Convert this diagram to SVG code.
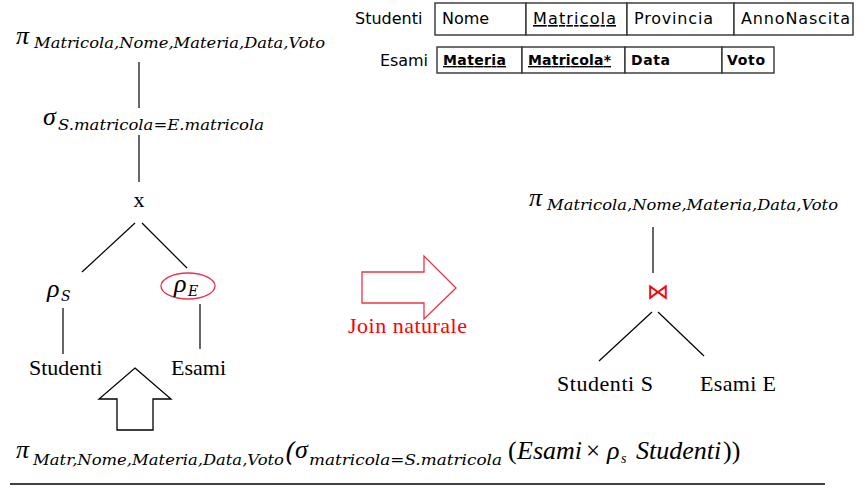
<svg xmlns="http://www.w3.org/2000/svg" width="865" height="488" viewBox="0 0 865 488">
<style>
.bg{fill:#ffffff}
.ln{stroke:#000;stroke-width:1.2;fill:none}
.cell{fill:#fff;stroke:#333;stroke-width:1.4}
.tbl{font-family:"DejaVu Sans","Noto Sans",sans-serif;font-size:16px;fill:#000}
.tblb{font-family:"DejaVu Sans","Noto Sans",sans-serif;font-size:14px;font-weight:bold;fill:#000}
.u{text-decoration:underline}
.m{font-family:"DejaVu Serif","Liberation Serif",serif;font-style:italic;fill:#000}
.g{font-family:"Liberation Serif","DejaVu Serif",serif;font-style:italic;fill:#000;font-size:26px}
.sub{font-size:15px}
.rm{font-family:"Liberation Serif","Times New Roman",serif;font-size:22px;fill:#000}
.red{fill:#ff0000}
</style>
<rect class="bg" x="0" y="0" width="865" height="488"/>

<g id="schema-studenti">
  <text class="tbl" x="355" y="24">Studenti</text>
  <rect class="cell" x="435" y="3" width="91" height="32"/>
  <rect class="cell" x="526" y="3" width="101" height="32"/>
  <rect class="cell" x="627" y="3" width="107" height="32"/>
  <rect class="cell" x="734" y="3" width="119" height="32"/>
  <text class="tbl" x="442" y="24">Nome</text>
  <text class="tbl u" x="533" y="24" textLength="83">Matricola</text>
  <text class="tbl" x="634" y="24" textLength="79">Provincia</text>
  <text class="tbl" x="741" y="24" textLength="109">AnnoNascita</text>
</g>

<g id="schema-esami">
  <text class="tbl" x="380" y="66" textLength="48">Esami</text>
  <rect class="cell" x="437" y="47" width="85" height="26"/>
  <rect class="cell" x="522" y="47" width="103" height="26"/>
  <rect class="cell" x="625" y="47" width="97" height="26"/>
  <rect class="cell" x="722" y="47" width="52" height="26"/>
  <text class="tblb u" x="443" y="65" textLength="63">Materia</text>
  <text class="tblb u" x="528" y="65" textLength="83">Matricola*</text>
  <text class="tblb" x="631" y="65" textLength="39">Data</text>
  <text class="tblb" x="727" y="65" textLength="38">Voto</text>
</g>

<g id="connectors">
  <line class="ln" x1="139" y1="62" x2="139" y2="108"/>
  <line class="ln" x1="139" y1="135" x2="139" y2="182"/>
  <line class="ln" x1="135" y1="223" x2="82" y2="272"/>
  <line class="ln" x1="142" y1="223" x2="187" y2="268"/>
  <line class="ln" x1="63" y1="308" x2="63" y2="354"/>
  <line class="ln" x1="200" y1="304" x2="200" y2="349"/>
  <line class="ln" x1="653" y1="227" x2="653" y2="273"/>
  <line class="ln" x1="652" y1="312" x2="599" y2="361"/>
  <line class="ln" x1="658" y1="312" x2="704" y2="356"/>
</g>

<g id="proj-left">
  <text class="g" x="16" y="44">π</text>
  <text class="m sub" x="34" y="48" textLength="291" lengthAdjust="spacingAndGlyphs">Matricola,Nome,Materia,Data,Voto</text>
</g>

<g id="sel-left">
  <text class="g" x="43" y="125">σ</text>
  <text class="m sub" x="58" y="130" textLength="206" lengthAdjust="spacingAndGlyphs">S.matricola=E.matricola</text>
</g>

<g id="cross">
  <text class="rm" x="139" y="207" text-anchor="middle" font-size="20">x</text>
</g>

<g id="rho-s">
  <text class="g" x="47" y="297">ρ</text>
  <text class="m" x="61" y="301" font-size="14">S</text>
</g>

<g id="rho-e">
  <ellipse cx="188" cy="286" rx="27" ry="13" fill="none" stroke="#e8344f" stroke-width="1.3"/>
  <text class="g" x="174" y="292">ρ</text>
  <text class="m" x="188" y="296" font-size="14">E</text>
</g>

<g id="studenti-left">
  <text class="rm" x="29" y="375">Studenti</text>
</g>

<g id="esami-left">
  <text class="rm" x="171" y="375">Esami</text>
</g>

<g id="arrow-up">
  <polygon points="135,368 171,399 153,399 153,430 117,430 117,399 99,399" fill="#fff" stroke="#000" stroke-width="1.3"/>
</g>

<g id="arrow-join">
  <polygon points="362,272 424,272 424,256 456,288 424,319 424,303 362,303" fill="#fff" stroke="#ee3344" stroke-width="1.3"/>
  <text class="rm red" x="348" y="333" textLength="119">Join naturale</text>
</g>

<g id="proj-right">
  <text class="g" x="529" y="206">π</text>
  <text class="m sub" x="547" y="210" textLength="291" lengthAdjust="spacingAndGlyphs">Matricola,Nome,Materia,Data,Voto</text>
</g>

<g id="join">
  <text x="658" y="299" text-anchor="middle" font-family="DejaVu Sans, sans-serif" font-size="22" fill="#ff0000">⋈</text>
</g>

<g id="studenti-s">
  <text class="rm" x="557" y="391" textLength="96">Studenti S</text>
</g>

<g id="esami-e">
  <text class="rm" x="700" y="391" textLength="76">Esami E</text>
</g>

<g id="formula">
  <text class="g" x="16" y="458">π</text>
  <text class="m sub" x="33" y="465" textLength="251" lengthAdjust="spacingAndGlyphs">Matr,Nome,Materia,Data,Voto</text>
  <text class="m" x="285" y="461" font-size="26" font-style="normal">(</text>
  <text class="g" x="295" y="458">σ</text>
  <text class="m sub" x="309" y="465" textLength="193" lengthAdjust="spacingAndGlyphs">matricola=S.matricola</text>
  <text class="g" y="459" font-size="25"><tspan x="508" font-style="normal">(</tspan><tspan x="517">Esami</tspan><tspan x="586" font-size="25" font-style="normal">×</tspan><tspan x="607">ρ</tspan><tspan x="621" dy="4" font-size="14">s</tspan><tspan x="636" dy="-4">Studenti</tspan><tspan x="723" font-style="normal">))</tspan></text>
  <line x1="10" y1="484" x2="825" y2="484" stroke="#000" stroke-width="1.4"/>
</g>
</svg>
